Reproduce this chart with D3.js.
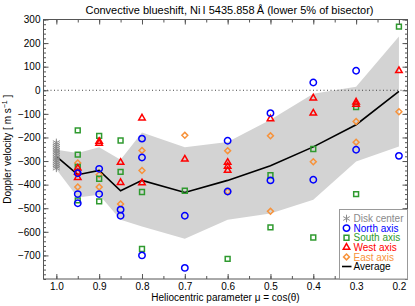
<!DOCTYPE html>
<html>
<head>
<meta charset="utf-8">
<script src="https://cdn.jsdelivr.net/npm/d3@7"></script>
<style>
  body { margin: 0; background: #fff; }
  svg { font-family: "Liberation Sans", Arial, sans-serif; }
</style>
</head>
<body>
<svg id="chart" width="415" height="306"></svg>
<script>
// heliocentric mu values for band and average
const muSteps = [1.0, 0.95, 0.9, 0.85, 0.8, 0.7, 0.6, 0.5, 0.4, 0.3, 0.2];
const bandUpper = [-252, -266, -241, -294, -179, -241, -219, -125, -15, 15, 228];
const bandLower = [-335, -455, -443, -549, -577, -629, -549, -522, -464, -302, -238];
const average = [-280, -358, -340, -426, -382, -433, -382, -320, -240, -146, -5];

// disk center measurements (all at mu = 1)
const diskCenter = [-222, -230, -238, -246, -254, -261, -268, -276, -284, -291, -299, -306, -314, -322, -330];

// [mu, velocity] per axis
const north = [
  [0.95, -352], [0.95, -440], [0.95, -479],
  [0.9, -333], [0.9, -440],
  [0.85, -506], [0.85, -532],
  [0.8, -205], [0.8, -285], [0.8, -700],
  [0.7, -532], [0.7, -753],
  [0.6, -214], [0.6, -429],
  [0.5, -97], [0.5, -382],
  [0.4, 33], [0.4, -379],
  [0.3, 83], [0.3, -252],
  [0.2, -278]
];
const south = [
  [0.95, -170], [0.95, -273], [0.95, -325], [0.95, -467],
  [0.9, -193], [0.9, -375], [0.9, -471],
  [0.85, -213], [0.85, -346],
  [0.8, -431], [0.8, -673],
  [0.7, -426],
  [0.6, -715],
  [0.5, -360], [0.5, -581],
  [0.4, -249], [0.4, -624],
  [0.3, -71], [0.3, -440],
  [0.2, 270]
];
const west = [
  [0.95, -330], [0.95, -348], [0.95, -370],
  [0.9, -217], [0.9, -225],
  [0.85, -306], [0.85, -391],
  [0.8, -118], [0.8, -393],
  [0.7, -292],
  [0.6, -306], [0.6, -323], [0.6, -340],
  [0.5, -121],
  [0.4, -33], [0.4, -97],
  [0.3, -50], [0.3, -60],
  [0.2, 83]
];
const east = [
  [0.95, -308], [0.95, -410],
  [0.9, -358], [0.9, -410],
  [0.85, -482],
  [0.8, -255], [0.8, -340],
  [0.7, -191],
  [0.6, -256], [0.6, -429],
  [0.5, -193], [0.5, -513],
  [0.4, -303],
  [0.3, -132], [0.3, -220],
  [0.2, -91]
];

const xTicks = [1.0, 0.9, 0.8, 0.7, 0.6, 0.5, 0.4, 0.3, 0.2];
const yTicks = [300, 200, 100, 0, -100, -200, -300, -400, -500, -600, -700];

const svg = d3.select("#chart");
const plotLeft = 43.5, plotRight = 407.5, plotTop = 19.5, plotBottom = 279;

const x = d3.scaleLinear().domain([1.03, 0.18]).range([plotLeft, plotRight]);
const y = d3.scaleLinear().domain([-800, 300]).range([plotBottom, plotTop]);

//gray envelope
const bandData = muSteps.map((m, i) => ({ mu: m, lo: bandLower[i], hi: bandUpper[i] }));
svg.append("path")
  .datum(bandData)
  .attr("fill", "#d3d3d3")
  .attr("d", d3.area().x(d => x(d.mu)).y0(d => y(d.lo)).y1(d => y(d.hi)));

//zero line
svg.append("line")
  .attr("x1", plotLeft).attr("x2", plotRight)
  .attr("y1", y(0)).attr("y2", y(0))
  .attr("stroke", "#444").attr("stroke-width", 1)
  .attr("stroke-dasharray", "1,2.5");

//average line
svg.append("path")
  .datum(muSteps.map((m, i) => [m, average[i]]))
  .attr("fill", "none")
  .attr("stroke", "#000")
  .attr("stroke-width", 1.6)
  .attr("d", d3.line().x(d => x(d[0])).y(d => y(d[1])));

const colors = {
  disk: "#8a8a8a",
  north: "#0000ff",
  south: "#2f9a2f",
  west: "#ff0000",
  east: "#f7923a"
};

function drawSymbols(data, type, size, color, width) {
  svg.append("g")
    .selectAll("path")
    .data(data)
    .join("path")
    .attr("transform", d => `translate(${x(d[0])},${y(d[1])})`)
    .attr("d", d3.symbol(type, size))
    .attr("fill", "none")
    .attr("stroke", color)
    .attr("stroke-width", width);
}

drawSymbols(diskCenter.map(v => [1.0, v]), d3.symbolAsterisk, 45, colors.disk, 1);
drawSymbols(east, d3.symbolDiamond2, 22, colors.east, 1.5);
drawSymbols(south, d3.symbolSquare2, 30, colors.south, 1.5);
drawSymbols(west, d3.symbolTriangle2, 30, colors.west, 1.5);
drawSymbols(north, d3.symbolCircle, 32, colors.north, 1.5);

//axes with inward ticks
function styleAxis(g) {
  g.select(".domain").remove();
  g.selectAll(".tick line").attr("stroke", "#555");
  g.selectAll("text").attr("fill", "#000").style("font-size", "10px");
}

const yMinor = d3.range(-800, 301, 20);
const xMinor = d3.range(0, 17).map(i => +(1.0 - i * 0.05).toFixed(2)).filter(v => v >= 0.18);

svg.append("g").attr("transform", `translate(${plotLeft},0)`)
  .call(d3.axisLeft(y).tickValues(yMinor).tickSize(-2.5).tickFormat(""))
  .call(styleAxis);
svg.append("g").attr("transform", `translate(${plotLeft},0)`)
  .call(d3.axisLeft(y).tickValues(yTicks).tickSize(-5).tickPadding(3).tickFormat(d3.format("d")))
  .call(styleAxis);
svg.append("g").attr("transform", `translate(${plotRight},0)`)
  .call(d3.axisRight(y).tickValues(yMinor).tickSize(-2.5).tickFormat(""))
  .call(styleAxis);
svg.append("g").attr("transform", `translate(${plotRight},0)`)
  .call(d3.axisRight(y).tickValues(yTicks).tickSize(-5).tickFormat(""))
  .call(styleAxis);

svg.append("g").attr("transform", `translate(0,${plotBottom})`)
  .call(d3.axisBottom(x).tickValues(xMinor).tickSize(-3).tickFormat(""))
  .call(styleAxis);
svg.append("g").attr("transform", `translate(0,${plotBottom})`)
  .call(d3.axisBottom(x).tickValues(xTicks).tickSize(-5).tickPadding(4).tickFormat(d3.format(".1f")))
  .call(styleAxis);
svg.append("g").attr("transform", `translate(0,${plotTop})`)
  .call(d3.axisTop(x).tickValues(xMinor).tickSize(-3).tickFormat(""))
  .call(styleAxis);
svg.append("g").attr("transform", `translate(0,${plotTop})`)
  .call(d3.axisTop(x).tickValues(xTicks).tickSize(-5).tickFormat(""))
  .call(styleAxis);

//frame
svg.append("rect")
  .attr("x", plotLeft).attr("y", plotTop)
  .attr("width", plotRight - plotLeft).attr("height", plotBottom - plotTop)
  .attr("fill", "none").attr("stroke", "#555").attr("stroke-width", 1);

//titles
svg.append("text")
  .attr("x", (plotLeft + plotRight) / 2 + 4).attr("y", 14)
  .attr("text-anchor", "middle")
  .style("font-size", "11px")
  .text("Convective blueshift, Ni\u2009I 5435.858\u2009Å (lower 5% of bisector)");

svg.append("text")
  .attr("x", (plotLeft + plotRight) / 2).attr("y", 301)
  .attr("text-anchor", "middle")
  .style("font-size", "10px")
  .text("Heliocentric parameter μ = cos(θ)");

const yLab = svg.append("text")
  .attr("transform", `translate(11,${(plotTop + plotBottom) / 2}) rotate(-90)`)
  .attr("text-anchor", "middle")
  .style("font-size", "10px");
yLab.append("tspan").text("Doppler velocity [ m s");
yLab.append("tspan").attr("dy", -4).style("font-size", "7px").text("−1");
yLab.append("tspan").attr("dy", 4).text(" ]");

//legend
const legendItems = [
  { label: "Disk center", color: colors.disk, type: d3.symbolAsterisk, size: 40 },
  { label: "North axis", color: colors.north, type: d3.symbolCircle, size: 32 },
  { label: "South axis", color: colors.south, type: d3.symbolSquare2, size: 30 },
  { label: "West axis", color: colors.west, type: d3.symbolTriangle2, size: 30 },
  { label: "East axis", color: colors.east, type: d3.symbolDiamond2, size: 22 },
  { label: "Average", color: "#000", type: null }
];

const legend = svg.append("g");
legend.append("rect")
  .attr("x", 339.5).attr("y", 209.5)
  .attr("width", plotRight - 339.5).attr("height", plotBottom - 209.5)
  .attr("fill", "#fff").attr("stroke", "#999");

legendItems.forEach((d, i) => {
  const ly = 218.5 + i * 9.6;
  if (d.type) {
    legend.append("path")
      .attr("transform", `translate(346.5,${ly})`)
      .attr("d", d3.symbol(d.type, d.size))
      .attr("fill", "none")
      .attr("stroke", d.color)
      .attr("stroke-width", d.type === d3.symbolAsterisk ? 1 : 1.5);
  } else {
    legend.append("line")
      .attr("x1", 342).attr("x2", 351.5)
      .attr("y1", ly).attr("y2", ly)
      .attr("stroke", "#000").attr("stroke-width", 1.6);
  }
  legend.append("text")
    .attr("x", 353.5).attr("y", ly + 3.6)
    .attr("fill", d.color)
    .style("font-size", "10px")
    .text(d.label);
});
</script>
</body>
</html>
